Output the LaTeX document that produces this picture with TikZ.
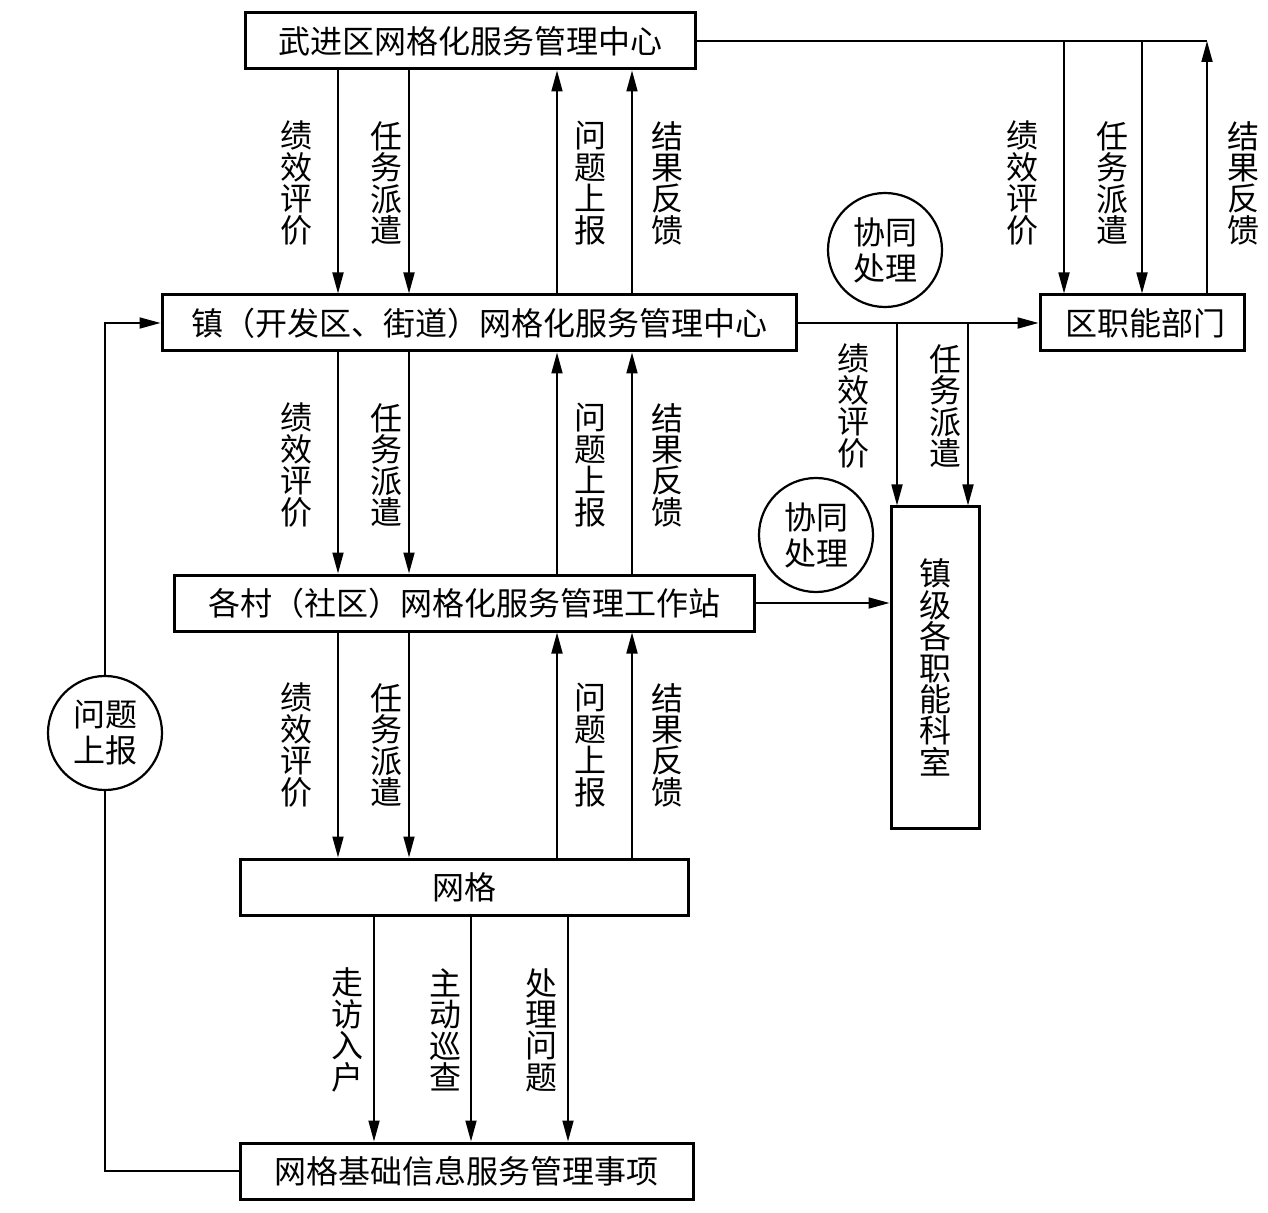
\documentclass[tikz,border=0pt]{standalone}
\usepackage{fontspec}
\setmainfont{Noto Sans CJK SC}
\usetikzlibrary{arrows.meta}
\tikzset{
  kuang/.style={draw,line width=1.5pt,minimum height=28pt,inner sep=0pt},
  quan/.style={draw,circle,line width=1.1pt,minimum size=57pt,inner sep=0pt,align=center,font=\fontsize{16}{18}\selectfont},
  shu/.style={align=center,inner sep=0pt},
  jt/.style={-{Triangle[length=10.5pt,width=5.5pt]},line width=0.9pt},
  xian/.style={line width=0.9pt}
}
\begin{document}
\begin{tikzpicture}[x=0.5pt,y=-0.5pt,font=\fontsize{16}{15.7}\selectfont]
      \useasboundingbox (0,0) rectangle (1268,1213);
      % 方框
      \node[kuang,minimum width=225pt] (qu) at (470,41) {武进区网格化服务管理中心};
      \node[kuang,minimum width=317pt] (zhen) at (479,323) {镇（开发区、街道）网格化服务管理中心};
      \node[kuang,minimum width=102pt] (bumen) at (1142,323) {\ 区职能部门};
      \node[kuang,minimum width=44pt,minimum height=160.5pt,align=center] (keshi) at (935,667.5) {镇\\级\\各\\职\\能\\科\\室};
      \node[kuang,minimum width=290pt] (cun) at (464,603) {各村（社区）网格化服务管理工作站};
      \node[kuang,minimum width=224pt] (wangge) at (464,887) {网格};
      \node[kuang,minimum width=226.5pt] (shixiang) at (466.5,1171) {网格基础信息服务管理事项};
      % 圆圈
      \node[quan] (xietong1) at (885,250) {协同\\处理};
      \node[quan] (xietong2) at (816,535) {协同\\处理};
      \node[quan] (shangbao) at (105,733) {问题\\上报};
      % 区中心 <-> 镇中心
      \draw[jt] (qu.south -| 338,0) -- (zhen.north -| 338,0);
      \draw[jt] (qu.south -| 409,0) -- (zhen.north -| 409,0);
      \draw[jt] (zhen.north -| 557,0) -- (qu.south -| 557,0);
      \draw[jt] (zhen.north -| 632,0) -- (qu.south -| 632,0);
      \node[shu] (jixiao1) at (296,183) {绩\\效\\评\\价};
      \node[shu] (renwu1) at (386,183) {任\\务\\派\\遣};
      \node[shu] (wenti1) at (590,183) {问\\题\\上\\报};
      \node[shu] (jieguo1) at (667,183) {结\\果\\反\\馈};
      % 镇中心 <-> 各村
      \draw[jt] (zhen.south -| 338,0) -- (cun.north -| 338,0);
      \draw[jt] (zhen.south -| 409,0) -- (cun.north -| 409,0);
      \draw[jt] (cun.north -| 557,0) -- (zhen.south -| 557,0);
      \draw[jt] (cun.north -| 632,0) -- (zhen.south -| 632,0);
      \node[shu] (jixiao2) at (296,465) {绩\\效\\评\\价};
      \node[shu] (renwu2) at (386,465) {任\\务\\派\\遣};
      \node[shu] (wenti2) at (590,465) {问\\题\\上\\报};
      \node[shu] (jieguo2) at (667,465) {结\\果\\反\\馈};
      % 各村 <-> 网格
      \draw[jt] (cun.south -| 338,0) -- (wangge.north -| 338,0);
      \draw[jt] (cun.south -| 409,0) -- (wangge.north -| 409,0);
      \draw[jt] (wangge.north -| 557,0) -- (cun.south -| 557,0);
      \draw[jt] (wangge.north -| 632,0) -- (cun.south -| 632,0);
      \node[shu] (jixiao3) at (296,745) {绩\\效\\评\\价};
      \node[shu] (renwu3) at (386,745) {任\\务\\派\\遣};
      \node[shu] (wenti3) at (590,745) {问\\题\\上\\报};
      \node[shu] (jieguo3) at (667,745) {结\\果\\反\\馈};
      % 网格 -> 事项
      \draw[jt] (wangge.south -| 374,0) -- (shixiang.north -| 374,0);
      \draw[jt] (wangge.south -| 471,0) -- (shixiang.north -| 471,0);
      \draw[jt] (wangge.south -| 568,0) -- (shixiang.north -| 568,0);
      \node[shu] (zoufang) at (347,1030) {走\\访\\入\\户};
      \node[shu] (xuncha) at (445,1030) {主\\动\\巡\\查};
      \node[shu] (chuli) at (541,1030) {处\\理\\问\\题};
      % 区中心 <-> 区职能部门
      \coordinate (guai) at (qu.east -| 1207,0);
      \draw[xian] (qu.east) -- (guai);
      \draw[jt] (qu.east -| 1064,0) -- (bumen.north -| 1064,0);
      \draw[jt] (qu.east -| 1142,0) -- (bumen.north -| 1142,0);
      \draw[jt] (bumen.north -| guai) -- (guai);
      \node[shu] (jixiao4) at (1022,183) {绩\\效\\评\\价};
      \node[shu] (renwu4) at (1112,183) {任\\务\\派\\遣};
      \node[shu] (jieguo4) at (1243,183) {结\\果\\反\\馈};
      % 镇中心 -> 区职能部门, 镇级科室
      \draw[jt] (zhen.east) -- (bumen.west);
      \draw[jt] (zhen.east -| 897,0) -- (keshi.north -| 897,0);
      \draw[jt] (zhen.east -| 968,0) -- (keshi.north -| 968,0);
      \node[shu] (jixiao5) at (853,406) {绩\\效\\评\\价};
      \node[shu] (renwu5) at (945,406) {任\\务\\派\\遣};
      \draw[jt] (cun.east) -- (keshi.west |- cun.east);
      % 问题上报回路
      \draw[xian] (shixiang.west) -| (shangbao.south);
      \draw[jt] (shangbao.north) |- (zhen.west);
\end{tikzpicture}
\end{document}
